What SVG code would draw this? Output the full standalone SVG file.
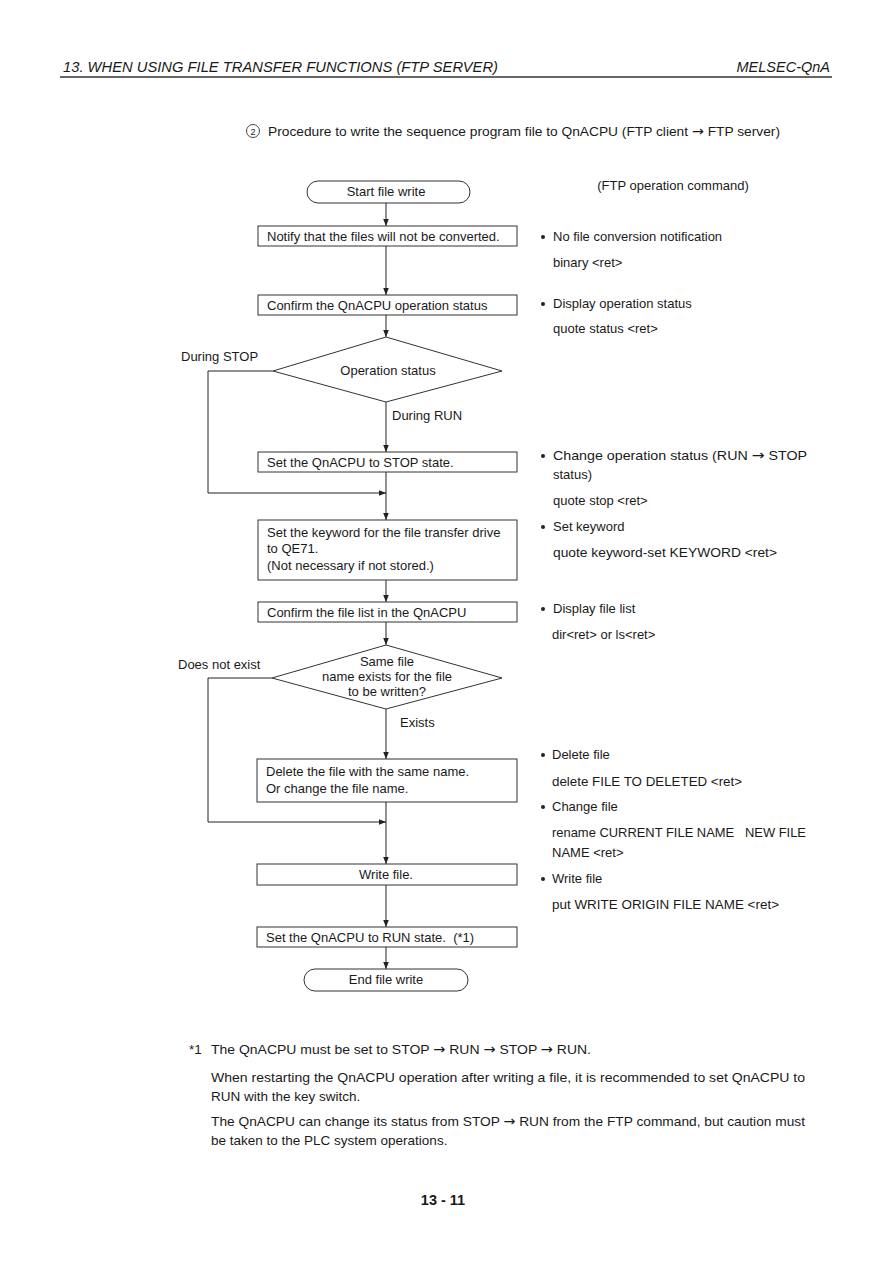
<svg xmlns="http://www.w3.org/2000/svg" width="893" height="1263" viewBox="0 0 893 1263">
<style>
text{font-family:"Liberation Sans",Arial,sans-serif;fill:#1a1a1a}
.t{font-size:13px}
.r{font-size:13px}
.f{font-size:13.5px}
.a{font-family:"DejaVu Sans",sans-serif;font-size:14px}
.box{fill:#fff;stroke:#333;stroke-width:1}
.ln{fill:none;stroke:#222;stroke-width:1}
.c{text-anchor:middle}
</style>
<defs>
<marker id="ah" viewBox="0 0 10 10" refX="10" refY="5" markerWidth="7" markerHeight="7" orient="auto" markerUnits="userSpaceOnUse">
<path d="M0,1 L10,5 L0,9 z" fill="#222"/>
</marker>
</defs>
<rect width="893" height="1263" fill="#fff"/>
<g id="header">
<text x="63" y="72" font-size="14.5" font-style="italic" textLength="435" lengthAdjust="spacingAndGlyphs">13.  WHEN USING FILE TRANSFER FUNCTIONS (FTP SERVER)</text>
<text x="830" y="72" font-size="14.5" font-style="italic" text-anchor="end">MELSEC-QnA</text>
<line x1="60" y1="77" x2="832" y2="77" stroke="#333" stroke-width="1.3"/>
<circle cx="253" cy="131" r="6.5" fill="none" stroke="#333" stroke-width="0.9"/>
<text x="253" y="135" font-size="9" class="c">2</text>
<text x="268" y="136" font-size="13.5" textLength="512" lengthAdjust="spacingAndGlyphs">Procedure to write the sequence program file to QnACPU (FTP client <tspan class="a">→</tspan> FTP server)</text>
</g>
<g id="connectors">
<line class="ln" x1="386" y1="203" x2="386" y2="226" marker-end="url(#ah)"/>
<line class="ln" x1="386" y1="246" x2="386" y2="295" marker-end="url(#ah)"/>
<line class="ln" x1="386" y1="315" x2="386" y2="337" marker-end="url(#ah)"/>
<line class="ln" x1="386" y1="402" x2="386" y2="452" marker-end="url(#ah)"/>
<polyline class="ln" points="273,371 208,371 208,493 386,493" marker-end="url(#ah)"/>
<line class="ln" x1="386" y1="472" x2="386" y2="520" marker-end="url(#ah)"/>
<line class="ln" x1="386" y1="580" x2="386" y2="602" marker-end="url(#ah)"/>
<line class="ln" x1="386" y1="622" x2="386" y2="645" marker-end="url(#ah)"/>
<polyline class="ln" points="272,678 208,678 208,822 386,822" marker-end="url(#ah)"/>
<line class="ln" x1="386" y1="709" x2="386" y2="759" marker-end="url(#ah)"/>
<line class="ln" x1="386" y1="802" x2="386" y2="864" marker-end="url(#ah)"/>
<line class="ln" x1="386" y1="885" x2="386" y2="927" marker-end="url(#ah)"/>
<line class="ln" x1="386" y1="947" x2="386" y2="969" marker-end="url(#ah)"/>
<text class="t" x="181" y="361">During STOP</text>
<text class="t" x="392" y="420">During RUN</text>
<text class="t" x="178" y="669">Does not exist</text>
<text class="t" x="400" y="727">Exists</text>
</g>
<g id="start">
<rect class="box" x="307" y="181" width="163" height="22" rx="11" ry="11"/>
<text class="t c" x="386" y="196">Start file write</text>
</g>
<g id="notify">
<rect class="box" x="258" y="226" width="259" height="20"/>
<text class="t" x="267" y="241">Notify that the files will not be converted.</text>
</g>
<g id="confirmStatus">
<rect class="box" x="258" y="295" width="259" height="20"/>
<text class="t" x="267" y="310">Confirm the QnACPU operation status</text>
</g>
<g id="opStatus">
<polygon class="box" points="386,337 502,371 386,402 273,371"/>
<text class="t c" x="388" y="375">Operation status</text>
</g>
<g id="setStop">
<rect class="box" x="258" y="452" width="259" height="20"/>
<text class="t" x="267" y="467">Set the QnACPU to STOP state.</text>
</g>
<g id="setKeyword">
<rect class="box" x="258" y="520" width="259" height="60"/>
<text class="t" x="267" y="537">Set the keyword for the file transfer drive</text>
<text class="t" x="267" y="553">to QE71.</text>
<text class="t" x="267" y="570">(Not necessary if not stored.)</text>
</g>
<g id="confirmList">
<rect class="box" x="258" y="602" width="259" height="20"/>
<text class="t" x="267" y="617">Confirm the file list in the QnACPU</text>
</g>
<g id="sameName">
<polygon class="box" points="386,645 502,678 386,709 272,678"/>
<text class="t c" x="387" y="666">Same file</text>
<text class="t c" x="387" y="681">name exists for the file</text>
<text class="t c" x="387" y="696">to be written?</text>
</g>
<g id="deleteFile">
<rect class="box" x="257" y="759" width="260" height="43"/>
<text class="t" x="266" y="776">Delete the file with the same name.</text>
<text class="t" x="266" y="793">Or change the file name.</text>
</g>
<g id="writeFile">
<rect class="box" x="257" y="864" width="260" height="21"/>
<text class="t c" x="386" y="879">Write file.</text>
</g>
<g id="setRun">
<rect class="box" x="257" y="927" width="260" height="20"/>
<text class="t" x="266" y="942" xml:space="preserve">Set the QnACPU to RUN state.  (*1)</text>
</g>
<g id="end">
<rect class="box" x="304" y="969" width="164" height="22" rx="11" ry="11"/>
<text class="t c" x="386" y="984">End file write</text>
</g>
<g id="commands">
<text class="r c" x="673" y="190">(FTP operation command)</text>
<circle cx="543" cy="237" r="2" fill="#222"/>
<text class="r" x="553" y="241">No file conversion notification</text>
<text class="r" x="553" y="267">binary &lt;ret&gt;</text>
<circle cx="543" cy="304" r="2" fill="#222"/>
<text class="r" x="553" y="308">Display operation status</text>
<text class="r" x="553" y="333">quote status &lt;ret&gt;</text>
<circle cx="543" cy="456" r="2" fill="#222"/>
<text class="r" x="553" y="460" textLength="254" lengthAdjust="spacingAndGlyphs">Change operation status (RUN <tspan class="a">→</tspan> STOP</text>
<text class="r" x="553" y="479">status)</text>
<text class="r" x="553" y="505">quote stop &lt;ret&gt;</text>
<circle cx="543" cy="527" r="2" fill="#222"/>
<text class="r" x="553" y="531">Set keyword</text>
<text class="r" x="553" y="557" textLength="224" lengthAdjust="spacingAndGlyphs">quote keyword-set KEYWORD &lt;ret&gt;</text>
<circle cx="543" cy="609" r="2" fill="#222"/>
<text class="r" x="553" y="613">Display file list</text>
<text class="r" x="552" y="639">dir&lt;ret&gt; or ls&lt;ret&gt;</text>
<circle cx="543" cy="755" r="2" fill="#222"/>
<text class="r" x="552" y="759">Delete file</text>
<text class="r" x="552" y="786" textLength="190" lengthAdjust="spacingAndGlyphs">delete FILE TO DELETED &lt;ret&gt;</text>
<circle cx="543" cy="807" r="2" fill="#222"/>
<text class="r" x="552" y="811">Change file</text>
<text class="r" x="552" y="837" textLength="254" lengthAdjust="spacingAndGlyphs" xml:space="preserve">rename CURRENT FILE NAME   NEW FILE</text>
<text class="r" x="552" y="857">NAME &lt;ret&gt;</text>
<circle cx="543" cy="879" r="2" fill="#222"/>
<text class="r" x="552" y="883">Write file</text>
<text class="r" x="552" y="909" textLength="227" lengthAdjust="spacingAndGlyphs">put WRITE ORIGIN FILE NAME &lt;ret&gt;</text>
</g>
<g id="footnote">
<text class="f" x="189" y="1054">*1</text>
<text class="f" x="211" y="1054" textLength="380" lengthAdjust="spacingAndGlyphs">The QnACPU must be set to STOP <tspan class="a">→</tspan> RUN <tspan class="a">→</tspan> STOP <tspan class="a">→</tspan> RUN.</text>
<text class="f" x="211" y="1082" textLength="594" lengthAdjust="spacingAndGlyphs">When restarting the QnACPU operation after writing a file, it is recommended to set QnACPU to</text>
<text class="f" x="211" y="1101">RUN with the key switch.</text>
<text class="f" x="211" y="1126" textLength="594" lengthAdjust="spacingAndGlyphs">The QnACPU can change its status from STOP <tspan class="a">→</tspan> RUN from the FTP command, but caution must</text>
<text class="f" x="211" y="1145">be taken to the PLC system operations.</text>
<text x="443" y="1205" font-size="14.5" font-weight="bold" text-anchor="middle">13 - 11</text>
</g>
</svg>
